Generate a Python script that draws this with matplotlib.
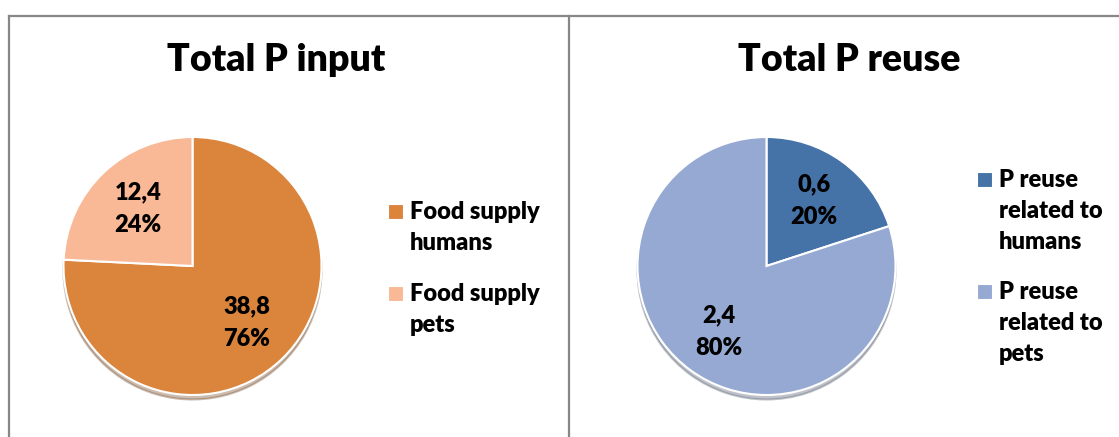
import matplotlib
matplotlib.use("Agg")
import matplotlib.pyplot as plt
from matplotlib.patches import Rectangle
from matplotlib.lines import Line2D

plt.rcParams['font.family'] = ['Lato', 'DejaVu Sans']
plt.rcParams['font.weight'] = 'heavy'

# data
input_labels = ["Food supply\nhumans", "Food supply\npets"]
input_values = [38.8, 12.4]
input_colors = ["#DA843C", "#F9B996"]

reuse_labels = ["P reuse\nrelated to\nhumans", "P reuse\nrelated to\npets"]
reuse_values = [0.6, 2.4]
reuse_colors = ["#4572A7", "#95A9D2"]

W, H = 1119, 437
fig = plt.figure(figsize=(W / 100, H / 100), dpi=100)
fig.patch.set_facecolor("white")


def px(x, y):
    # pixel position (from top-left) -> figure fraction
    return x / W, 1 - y / H


def fmt(values):
    total = sum(values)
    def f(pct):
        v = pct * total / 100
        return f"{v:.1f}".replace(".", ",") + "\n" + f"{pct:.0f}%"
    return f


def draw_pie(cx, cy, r, values, colors, pctdist):
    ax = fig.add_axes([(cx - r) / W, (H - cy - r) / H, 2 * r / W, 2 * r / H])
    wedges, _, autotexts = ax.pie(
        values, colors=colors, startangle=90, counterclock=False,
        autopct=fmt(values), pctdistance=pctdist,
        wedgeprops=dict(edgecolor="white", linewidth=1.5),
        shadow=dict(ox=0.0, oy=-0.025, shade=0.5, alpha=0.35),
        textprops=dict(fontsize=17, fontweight="heavy", color="black",
                       linespacing=1.6))
    ax.set_xlim(-1, 1)
    ax.set_ylim(-1, 1)
    ax.axis("off")
    return wedges


def draw_legend(x, first_y, labels, colors):
    # first_y: pixel y of the first text line of each entry
    for yc, lab, c in zip(first_y, labels, colors):
        sx, sy = px(x, yc + 7.5)
        fig.add_artist(Rectangle((sx, sy), 15 / W, 15 / H, transform=fig.transFigure,
                                 facecolor=c, edgecolor="white", linewidth=0.8))
        tx, ty = px(x + 22, yc - 10)
        fig.text(tx, ty, lab, fontsize=17, fontweight="heavy", va="top", ha="left",
                 linespacing=1.5)


# titles
fig.text(*px(276, 60), "Total P input", fontsize=27, fontweight="heavy", ha="center", va="center")
fig.text(*px(849, 60), "Total P reuse", fontsize=27, fontweight="heavy", ha="center", va="center")

draw_pie(192.5, 266, 129, input_values, input_colors, 0.61)
draw_pie(766.5, 266, 129, reuse_values, reuse_colors, 0.63)

draw_legend(388, [211, 293], input_labels, input_colors)
draw_legend(977, [179, 291], reuse_labels, reuse_colors)

# panel borders
border = "#878787"
for xs, ys in [([9, W], [16, 16]), ([9, 9], [16, H]), ([569, 569], [16, H])]:
    fig.add_artist(Line2D([x / W for x in xs], [1 - y / H for y in ys],
                          transform=fig.transFigure, color=border, linewidth=1.6))

fig.savefig("out.png", dpi=100)
